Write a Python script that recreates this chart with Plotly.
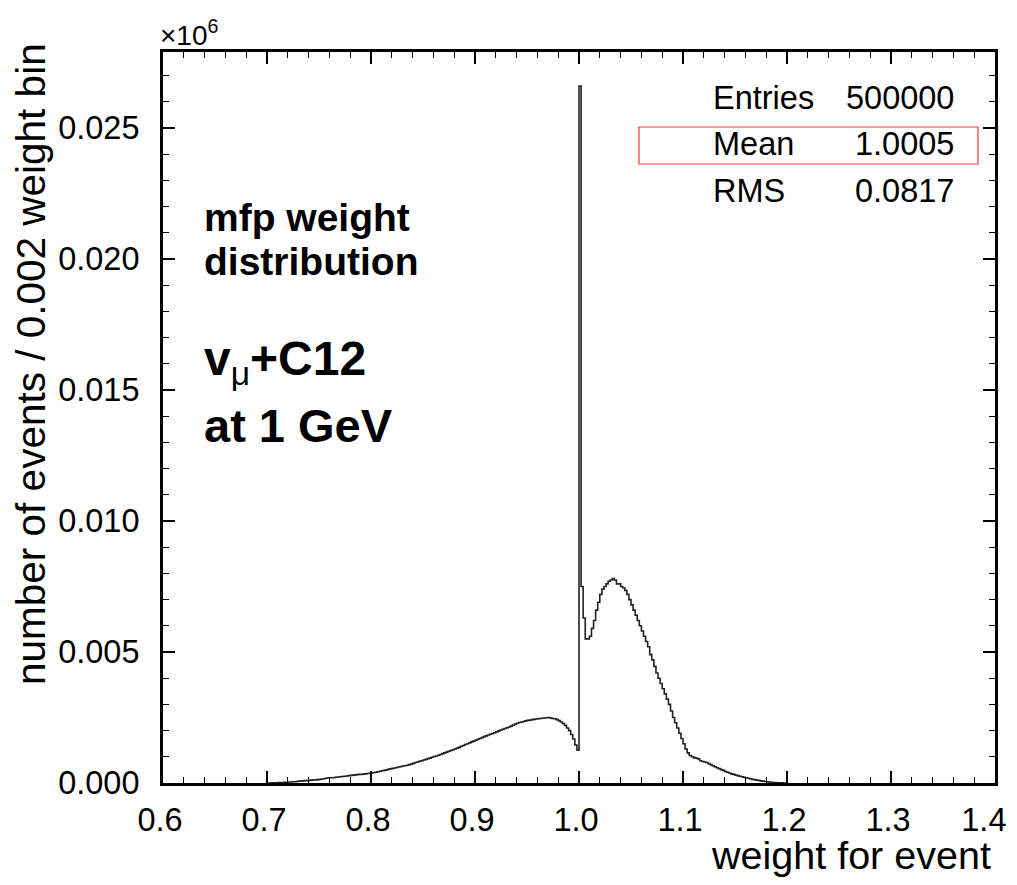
import numpy as np
import plotly.graph_objects as go

# ---- data -------------------------------------------------------------
bin_start = 0.700      # lower edge of first listed bin
bin_width = 0.002      # weight bin width
# counts per bin, in units of 1e-3 (axis shows x10^6 events)
counts_e3 = [
    0.00, 0.00, 0.01, 0.01, 0.01, 0.02, 0.02, 0.02, 0.03, 0.03,   # 0.700
    0.04, 0.04, 0.05, 0.05, 0.06, 0.07, 0.07, 0.08, 0.09, 0.09,   # 0.720
    0.10, 0.11, 0.12, 0.12, 0.13, 0.14, 0.15, 0.16, 0.18, 0.19,   # 0.740
    0.20, 0.20, 0.21, 0.22, 0.23, 0.24, 0.25, 0.26, 0.27, 0.28,   # 0.760
    0.29, 0.30, 0.31, 0.32, 0.33, 0.33, 0.34, 0.35, 0.36, 0.37,   # 0.780
    0.38, 0.40, 0.41, 0.43, 0.45, 0.47, 0.48, 0.50, 0.52, 0.54,   # 0.800
    0.56, 0.57, 0.59, 0.61, 0.63, 0.65, 0.66, 0.68, 0.70, 0.72,   # 0.820
    0.75, 0.78, 0.80, 0.83, 0.85, 0.88, 0.90, 0.93, 0.95, 0.98,   # 0.840
    1.01, 1.03, 1.06, 1.09, 1.12, 1.15, 1.18, 1.21, 1.24, 1.27,   # 0.860
    1.30, 1.33, 1.36, 1.40, 1.43, 1.47, 1.50, 1.53, 1.57, 1.60,   # 0.880
    1.63, 1.67, 1.70, 1.73, 1.77, 1.80, 1.83, 1.86, 1.89, 1.92,   # 0.900
    1.95, 1.99, 2.02, 2.05, 2.08, 2.11, 2.14, 2.17, 2.21, 2.25,   # 0.920
    2.28, 2.31, 2.33, 2.35, 2.37, 2.39, 2.40, 2.42, 2.43, 2.44,   # 0.940
    2.45, 2.46, 2.47, 2.48, 2.49, 2.50, 2.48, 2.46, 2.45, 2.42,   # 0.960
    2.38, 2.33, 2.27, 2.20, 2.10, 2.00, 1.85, 1.68, 1.45, 1.25,   # 0.980
    26.6, 7.50, 6.30, 5.50, 5.50, 5.60, 5.90, 6.20, 6.60, 6.90,   # 1.000
    7.20, 7.40, 7.50, 7.60, 7.70, 7.75, 7.80, 7.75, 7.60, 7.60,   # 1.020
    7.50, 7.45, 7.35, 7.20, 7.00, 6.80, 6.60, 6.40, 6.20, 6.00,   # 1.040
    5.80, 5.60, 5.40, 5.20, 4.90, 4.70, 4.45, 4.20, 4.00, 3.80,   # 1.060
    3.60, 3.40, 3.20, 3.00, 2.75, 2.50, 2.30, 2.10, 1.90, 1.70,   # 1.080
    1.50, 1.30, 1.15, 1.05, 1.00, 0.97, 0.95, 0.92, 0.85, 0.82,   # 1.100
    0.80, 0.78, 0.74, 0.70, 0.66, 0.62, 0.58, 0.55, 0.51, 0.48,   # 1.120
    0.44, 0.41, 0.38, 0.35, 0.33, 0.30, 0.28, 0.26, 0.24, 0.22,   # 1.140
    0.20, 0.18, 0.16, 0.14, 0.13, 0.11, 0.10, 0.08, 0.07, 0.06,   # 1.160
    0.05, 0.04, 0.03, 0.02, 0.02, 0.01, 0.01, 0.01, 0.00, 0.00,   # 1.180
]
x_tick_vals = [0.6, 0.7, 0.8, 0.9, 1.0, 1.1, 1.2, 1.3, 1.4]
x_tick_text = ["0.6", "0.7", "0.8", "0.9", "1.0", "1.1", "1.2", "1.3", "1.4\u2002"]
y_tick_vals = [0.000, 0.005, 0.010, 0.015, 0.020, 0.025]
y_tick_text = ["0.000", "0.005", "0.010", "0.015", "0.020", "0.025"]
stat_labels = ["Entries", "Mean", "RMS"]
stat_values = ["500000", "1.0005", "0.0817"]
x_title = "weight for event"
y_title = "number of events / 0.002 weight bin"

# ---- figure -----------------------------------------------------------
n = len(counts_e3)
edges = bin_start + bin_width * np.arange(n + 1)
yv = np.array(counts_e3) * 1e-3
y_step = np.append(yv, yv[-1])

OFF = 8                       # page body margin offset
W, H = 1017 - 2 * OFF, 885 - 2 * OFF
# plot frame in page pixels
L, R, T, B = 163, 995, 52, 783

def px(xp):
    return (xp - L) / (R - L)

def py(yp):
    return (B - yp) / (B - T)

FONT = "Liberation Sans, Arial, Helvetica, sans-serif"

fig = go.Figure()
fig.add_trace(go.Scatter(
    x=edges, y=y_step, mode="lines", line_shape="hv",
    line=dict(color="#222222", width=1.6), hoverinfo="skip", showlegend=False,
))

axis_common = dict(
    showgrid=False, zeroline=False, showline=True, linecolor="black",
    linewidth=3, mirror="allticks", ticks="inside", ticklen=12, tickwidth=1.5,
    tickcolor="black", tickfont=dict(family=FONT, size=32.5, color="black"),
    tickmode="array", ticklabeloverflow="allow", automargin=False,
)
fig.update_xaxes(range=[0.6, 1.4], tickvals=x_tick_vals, ticktext=x_tick_text,
                 minor=dict(dtick=0.02, tick0=0.6, ticks="inside", ticklen=6,
                            tickwidth=1.2, tickcolor="black"),
                 ticklabelstandoff=6, ticklabelshift=-3, **axis_common)
fig.update_yaxes(range=[0, 0.0279], tickvals=y_tick_vals, ticktext=y_tick_text,
                 minor=dict(dtick=0.001, tick0=0, ticks="inside", ticklen=6,
                            tickwidth=1.2, tickcolor="black"),
                 ticklabelstandoff=14, **axis_common)

ann = []
# axis titles
ann.append(dict(text=x_title, xref="paper", yref="paper", x=px(993), y=py(855),
                xanchor="right", yanchor="middle", showarrow=False,
                font=dict(family=FONT, size=39.5, color="black")))
ann.append(dict(text=y_title, xref="paper", yref="paper", x=px(31), y=py(364),
                xanchor="center", yanchor="middle", textangle=-90, showarrow=False,
                font=dict(family=FONT, size=40.5, color="black")))
# exponent
ann.append(dict(text="×10<sup>6</sup>", xref="paper", yref="paper", x=px(158), y=py(33),
                xanchor="left", yanchor="middle", showarrow=False,
                font=dict(family=FONT, size=28, color="black")))
# in-plot labels
ann.append(dict(text="<b>mfp weight</b>", xref="paper", yref="paper", x=px(202), y=py(217),
                xanchor="left", yanchor="middle", showarrow=False,
                font=dict(family=FONT, size=39, color="black")))
ann.append(dict(text="<b>distribution</b>", xref="paper", yref="paper", x=px(202), y=py(262),
                xanchor="left", yanchor="middle", showarrow=False,
                font=dict(family=FONT, size=39, color="black")))
ann.append(dict(text="<b>v</b><sub>μ</sub><b>+C12</b>", xref="paper", yref="paper", x=px(202), y=py(362),
                xanchor="left", yanchor="middle", showarrow=False,
                font=dict(family=FONT, size=48, color="black")))
ann.append(dict(text="<b>at 1 GeV</b>", xref="paper", yref="paper", x=px(202), y=py(425),
                xanchor="left", yanchor="middle", showarrow=False,
                font=dict(family=FONT, size=47, color="black")))
# stats box
for i, (lab, val) in enumerate(zip(stat_labels, stat_values)):
    yy = py(98 + i * 46.5)
    ann.append(dict(text=lab, xref="paper", yref="paper", x=px(711), y=yy,
                    xanchor="left", yanchor="middle", showarrow=False,
                    font=dict(family=FONT, size=32.5, color="black")))
    ann.append(dict(text=val, xref="paper", yref="paper", x=px(956), y=yy,
                    xanchor="right", yanchor="middle", showarrow=False,
                    font=dict(family=FONT, size=32.5, color="black")))

shapes = [dict(type="rect", xref="paper", yref="paper",
               x0=px(639), x1=px(978), y0=py(164), y1=py(127),
               line=dict(color="#ff3333", width=1.2), fillcolor="rgba(0,0,0,0)")]

fig.update_layout(
    width=W, height=H,
    margin=dict(l=L - OFF, r=(W + OFF) - R, t=T - OFF, b=(H + OFF) - B),
    paper_bgcolor="white", plot_bgcolor="white",
    annotations=ann, shapes=shapes, showlegend=False,
)
fig.write_html("out.html")
